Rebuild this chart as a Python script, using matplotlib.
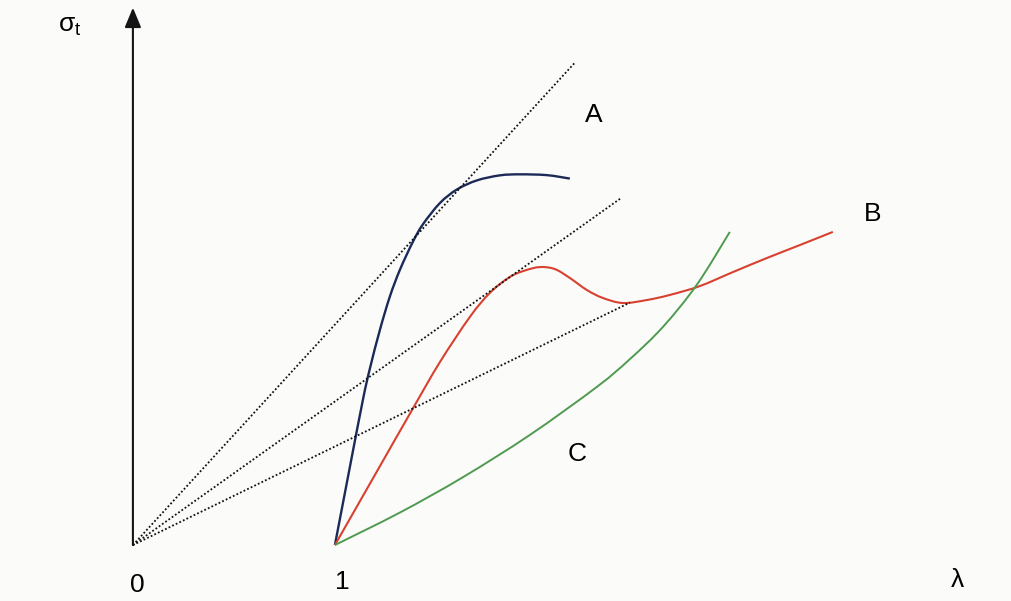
import matplotlib
matplotlib.use("Agg")
import matplotlib.pyplot as plt
from matplotlib.path import Path
from matplotlib.patches import PathPatch

plt.rcParams['font.family'] = ['Liberation Sans', 'DejaVu Sans']
plt.rcParams['mathtext.fontset'] = 'custom'
plt.rcParams['mathtext.rm'] = 'Liberation Sans'
plt.rcParams['mathtext.it'] = 'Liberation Sans'

# true stress vs stretch ratio, three material types
blue_lam = [1.000, 1.074, 1.139, 1.173, 1.223, 1.272, 1.322, 1.386, 1.436, 1.520,
            1.604, 1.703, 1.817, 1.916, 2.050, 2.163]
blue_sig = [0.000, 0.386, 0.721, 0.873, 1.066, 1.230, 1.363, 1.501, 1.588, 1.693,
            1.760, 1.805, 1.830, 1.835, 1.831, 1.814]

red_lam = [1.000, 1.198, 1.386, 1.520, 1.668, 1.767, 1.866, 1.941, 2.015, 2.089,
           2.163, 2.248, 2.327, 2.426, 2.545, 2.658, 2.807, 2.970, 3.139, 3.302, 3.465]
red_sig = [0.000, 0.347, 0.676, 0.906, 1.129, 1.248, 1.327, 1.359, 1.376, 1.366,
           1.322, 1.262, 1.223, 1.198, 1.213, 1.238, 1.282, 1.351, 1.421, 1.485, 1.550]

green_lam = [1.000, 1.322, 1.634, 1.965, 2.297, 2.460, 2.624, 2.792, 2.955]
green_sig = [0.000, 0.161, 0.336, 0.545, 0.783, 0.920, 1.080, 1.289, 1.550]

# Considere tangent lines from the origin (end points)
ray_lam = [2.19, 2.42, 2.46]
ray_sig = [2.39, 1.72, 1.20]

curve_names = ['A', 'B', 'C']
curve_label_pos = [(2.28, 2.13), (3.66, 1.64), (2.20, 0.45)]


def smooth_path(xs, ys):
    # Catmull-Rom through the points, drawn as cubic Bezier segments
    pts = list(zip(xs, ys))
    ext = [pts[0]] + pts + [pts[-1]]
    verts = [pts[0]]
    codes = [Path.MOVETO]
    for i in range(1, len(ext) - 2):
        p0, p1, p2, p3 = ext[i - 1], ext[i], ext[i + 1], ext[i + 2]
        c1 = (p1[0] + (p2[0] - p0[0]) / 6, p1[1] + (p2[1] - p0[1]) / 6)
        c2 = (p2[0] - (p3[0] - p1[0]) / 6, p2[1] - (p3[1] - p1[1]) / 6)
        verts += [c1, c2, p2]
        codes += [Path.CURVE4] * 3
    return Path(verts, codes)


bg = '#fbfbf9'
fig = plt.figure(figsize=(10.11, 6.01), dpi=100, facecolor=bg)
ax = fig.add_axes([0, 0, 1, 1])
ax.set_facecolor(bg)
ax.set_xlim(-0.658, 4.347)
ax.set_ylim(-0.277, 2.698)
ax.axis('off')

for lx, ly in zip(ray_lam, ray_sig):
    ax.plot([0, lx], [0, ly], color='#111111', lw=1.3, linestyle=(0, (1, 1.2)))

for xs, ys, col, lw in [(blue_lam, blue_sig, '#1c2a58', 1.7),
                        (red_lam, red_sig, '#d8412f', 1.5),
                        (green_lam, green_sig, '#4f9a50', 1.4)]:
    ax.add_patch(PathPatch(smooth_path(xs, ys), facecolor='none', edgecolor=col,
                           lw=lw, capstyle='butt'))

# axes with arrow heads
arrow = dict(arrowstyle='-|>,head_length=0.6,head_width=0.25', lw=1.5, color='#151515',
             mutation_scale=20, shrinkA=0, shrinkB=0)
ax.annotate('', xy=(4.35, 0), xytext=(-0.624, 0), arrowprops=arrow)
ax.annotate('', xy=(0, 2.66), xytext=(0, 0), arrowprops=arrow)

fs = 19
ax.text(-0.371, 2.57, r'$\mathrm{\sigma_t}$', fontsize=fs, ha='left', va='center')
ax.text(0.02, -0.198, '0', fontsize=fs, ha='center', va='center')
ax.text(1.035, -0.183, '1', fontsize=fs, ha='center', va='center')
ax.text(4.084, -0.173, 'λ', fontsize=fs, ha='center', va='center')
for name, (px, py) in zip(curve_names, curve_label_pos):
    ax.text(px, py, name, fontsize=fs, ha='center', va='center')

fig.savefig('out.png', dpi=100, facecolor=bg)
